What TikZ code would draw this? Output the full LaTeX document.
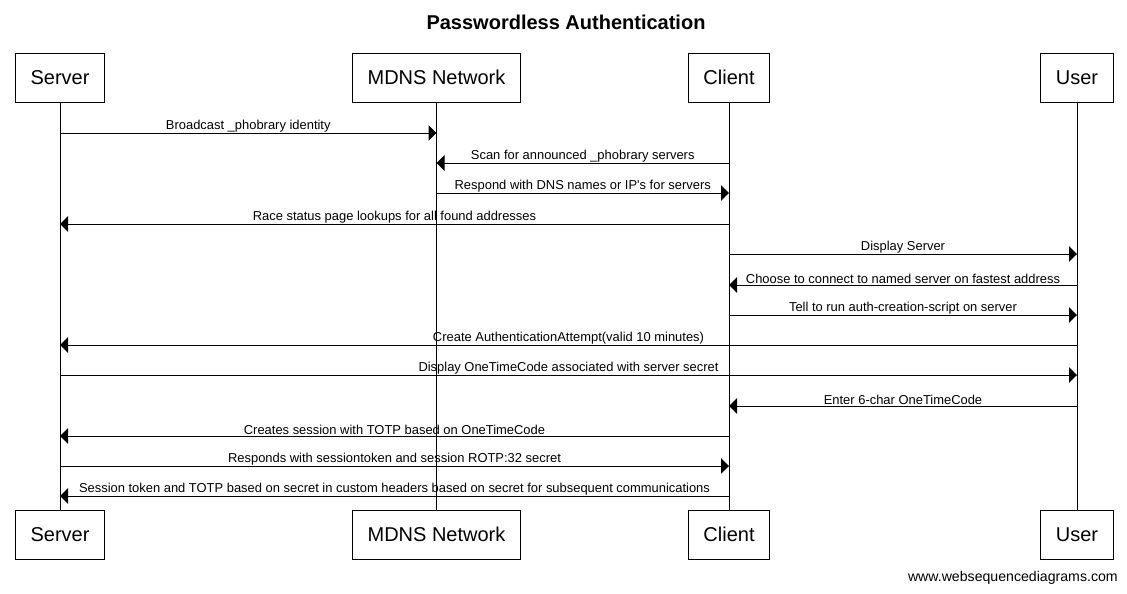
\documentclass[tikz,border=0pt]{standalone}
\usepackage{fontspec}
\newfontfamily\wsd{Liberation Sans}
\usetikzlibrary{arrows.meta}

\begin{document}
\begin{tikzpicture}[x=0.75pt, y=-0.75pt,
  actor/.style={draw, line width=0.75pt, minimum height=36.75pt, inner xsep=11.25pt, font=\wsd\fontsize{15}{18}\selectfont},
  msg/.style={line width=0.75pt, -{Triangle[length=6pt, width=11.5pt]}},
  lbl/.style={above, inner sep=0.4pt, font=\wsd\fontsize{9.7}{11}\selectfont}]
\useasboundingbox (0,0) rectangle (1127,593);
\node[font=\wsd\bfseries\fontsize{15}{18}\selectfont] (title) at (566,22) {Passwordless Authentication};
% actors, top and bottom
\node[actor] (srv) at (60,77.5) {Server};
\node[actor] (mdns) at (436.5,77.5) {MDNS Network};
\node[actor] (cli) at (729,77.5) {Client};
\node[actor] (usr) at (1077,77.5) {User};
\node[actor] (srv2) at (60,534.5) {Server};
\node[actor] (mdns2) at (436.5,534.5) {MDNS Network};
\node[actor] (cli2) at (729,534.5) {Client};
\node[actor] (usr2) at (1077,534.5) {User};
\foreach \a in {srv, mdns, cli, usr} \draw[line width=0.75pt] (\a) -- (\a2);
% messages
\foreach \y/\a/\b/\t in {
  133/srv/mdns/{Broadcast \_phobrary identity},
  163/cli/mdns/{Scan for announced \_phobrary servers},
  193/mdns/cli/{Respond with DNS names or IP's for servers},
  224/cli/srv/{Race status page lookups for all found addresses},
  254/cli/usr/{Display Server},
  285/usr/cli/{Choose to connect to named server on fastest address},
  315/cli/usr/{Tell to run auth-creation-script on server},
  345/usr/srv/{Create AuthenticationAttempt(valid 10 minutes)},
  375/srv/usr/{Display OneTimeCode associated with server secret},
  406/usr/cli/{Enter 6-char OneTimeCode},
  436/cli/srv/{Creates session with TOTP based on OneTimeCode},
  466/srv/cli/{Responds with sessiontoken and session ROTP:32 secret},
  496/cli/srv/{Session token and TOTP based on secret in custom headers based on secret for subsequent communications}}
  \draw[msg] (\a |- 0,\y) -- (\b |- 0,\y) node[lbl, midway]{\t};
\node[anchor=east, inner sep=0pt, font=\wsd\fontsize{10.6}{13}\selectfont] (link) at (1118,578) {www.websequencediagrams.com};
\end{tikzpicture}
\end{document}
